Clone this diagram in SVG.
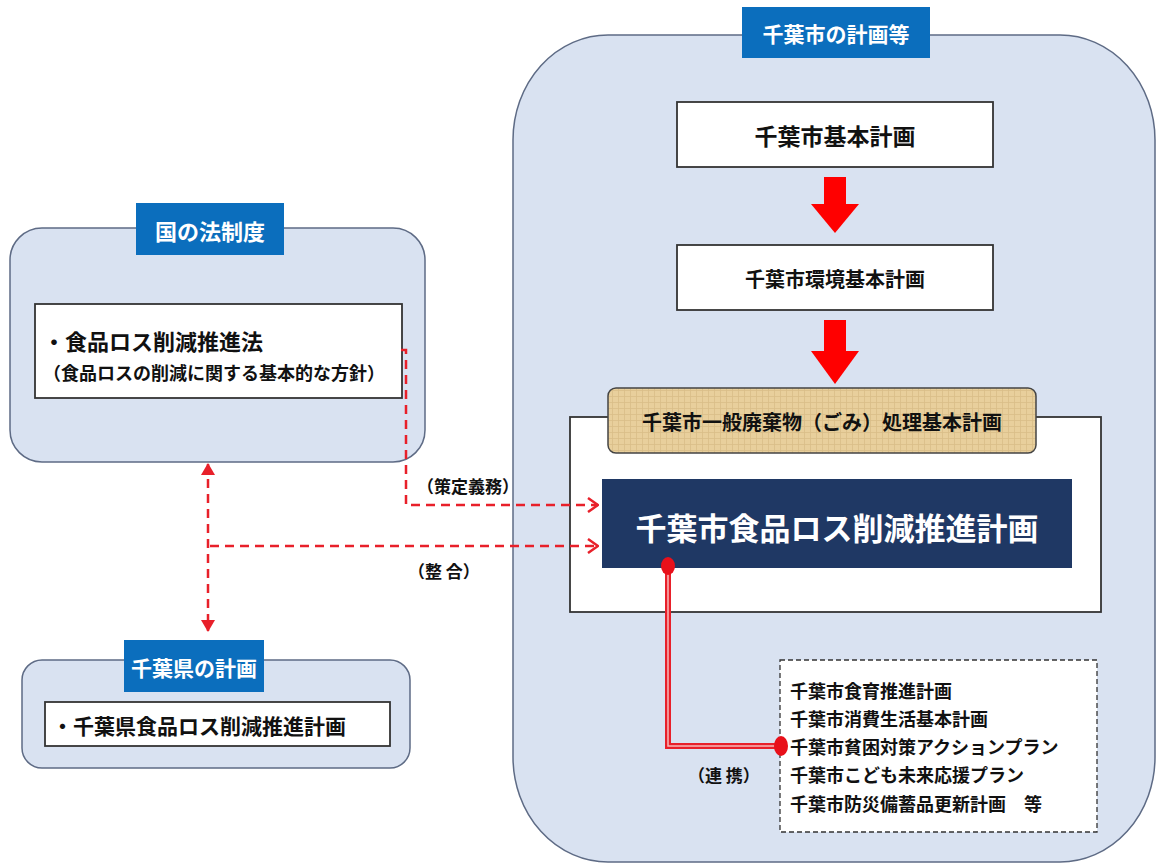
<svg xmlns="http://www.w3.org/2000/svg" width="1157" height="865" viewBox="0 0 1157 865">
<defs>
<style>
.t{font-family:"Noto Sans CJK JP","Noto Sans CJK SC",sans-serif;font-weight:bold;fill:#111;dominant-baseline:central}
.w{fill:#fff}
.c{text-anchor:middle}
.cont{fill:#D9E2F1;stroke:#5E6B85;stroke-width:1.5}
.tab{fill:#0B6EBD}
.box{fill:#fff;stroke:#333;stroke-width:1.8}
.dash{fill:none;stroke:#E8202A;stroke-width:2.5;stroke-dasharray:9 6}
</style>
<marker id="open" viewBox="0 0 12 16" refX="11" refY="8" markerWidth="12" markerHeight="16" markerUnits="userSpaceOnUse" orient="auto">
<path d="M1,1 L11,8 L1,15" fill="none" stroke="#E8202A" stroke-width="2.5"/>
</marker>
<marker id="tri" viewBox="0 0 12 14" refX="11" refY="7" markerWidth="12" markerHeight="14" markerUnits="userSpaceOnUse" orient="auto-start-reverse">
<path d="M0,0 L12,7 L0,14 Z" fill="#E8202A"/>
</marker>
<pattern id="paper" width="6" height="6" patternUnits="userSpaceOnUse">
<rect width="6" height="6" fill="#E8CF9C"/>
<path d="M0,0.5 H6 M0.5,0 V6" stroke="#D9BE88" stroke-width="0.8"/>
</pattern>
</defs>

<g id="chiba-city">
<rect class="cont" x="513" y="35" width="642" height="827" rx="95" ry="105"/>
<rect class="tab" x="742" y="7" width="188" height="51"/>
<text class="t w c" x="836" y="33" font-size="21">千葉市の計画等</text>
</g>

<g id="kihon">
<rect class="box" x="677" y="102" width="316" height="65"/>
<text class="t c" x="835" y="135" font-size="23">千葉市基本計画</text>
</g>

<g id="kankyo">
<rect class="box" x="677" y="245" width="316" height="65"/>
<text class="t c" x="835" y="278" font-size="20">千葉市環境基本計画</text>
</g>

<g id="outer-white">
<rect class="box" x="570" y="417" width="531" height="195"/>
</g>

<g id="gomi">
<rect x="608" y="388" width="428" height="65" rx="8" fill="url(#paper)" stroke="#444" stroke-width="1.5"/>
<text class="t c" x="822" y="421" font-size="20">千葉市一般廃棄物（ごみ）処理基本計画</text>
</g>

<g id="foodloss-plan">
<rect x="602" y="479" width="470" height="89" fill="#1F3864"/>
<text class="t w c" x="837" y="526" font-size="31">千葉市食品ロス削減推進計画</text>
</g>

<g id="related">
<rect x="780" y="660" width="317" height="172" fill="#fff" stroke="#333" stroke-width="1.3" stroke-dasharray="5 3"/>
<text class="t" x="790" y="690" font-size="18">千葉市食育推進計画</text>
<text class="t" x="790" y="718" font-size="18">千葉市消費生活基本計画</text>
<text class="t" x="790" y="746" font-size="18">千葉市貧困対策アクションプラン</text>
<text class="t" x="790" y="774" font-size="18">千葉市こども未来応援プラン</text>
<text class="t" x="790" y="803" font-size="18">千葉市防災備蓄品更新計画　等</text>
</g>

<g id="national">
<rect class="cont" x="10" y="228" width="415" height="234" rx="32"/>
<rect class="tab" x="136" y="203" width="148" height="52"/>
<text class="t w c" x="210" y="230" font-size="22">国の法制度</text>
<rect class="box" x="35" y="304" width="367" height="94"/>
<text class="t" x="43" y="340" font-size="22">・食品ロス削減推進法</text>
<text class="t" x="43" y="372" font-size="18">（食品ロスの削減に関する基本的な方針）</text>
</g>

<g id="prefecture">
<rect class="cont" x="22" y="660" width="388" height="108" rx="20"/>
<rect class="tab" x="124" y="640" width="140" height="52"/>
<text class="t w c" x="194" y="667" font-size="21">千葉県の計画</text>
<rect class="box" x="45" y="702" width="345" height="44"/>
<text class="t" x="52" y="725" font-size="21">・千葉県食品ロス削減推進計画</text>
</g>

<g id="connectors">
<path d="M835,177 V205" stroke="#FF0000" stroke-width="22" fill="none"/>
<path d="M811,204 H859 L835,233 Z" fill="#FF0000"/>
<path d="M835,320 V352" stroke="#FF0000" stroke-width="22" fill="none"/>
<path d="M811,351 H859 L835,384 Z" fill="#FF0000"/>

<path class="dash" d="M401,350 H406 V505 H598" marker-end="url(#open)"/>
<path class="dash" d="M208,464 V631" marker-start="url(#tri)" marker-end="url(#tri)"/>
<path class="dash" d="M210,546 H598" marker-end="url(#open)"/>

<path d="M668,566 V746 H781" fill="none" stroke="#E8202A" stroke-width="6"/>
<path d="M668,570 V746 H778" fill="none" stroke="#F8B8B8" stroke-width="1.5"/>
<ellipse cx="668" cy="566" rx="7" ry="9" fill="#E8101A"/>
<ellipse cx="781" cy="746" rx="7" ry="10" fill="#E8101A"/>

<text class="t" x="417" y="485" font-size="17">（策定義務）</text>
<text class="t" x="408" y="570" font-size="17">（整 合）</text>
<text class="t" x="688" y="774" font-size="17">（連 携）</text>
</g>
</svg>
